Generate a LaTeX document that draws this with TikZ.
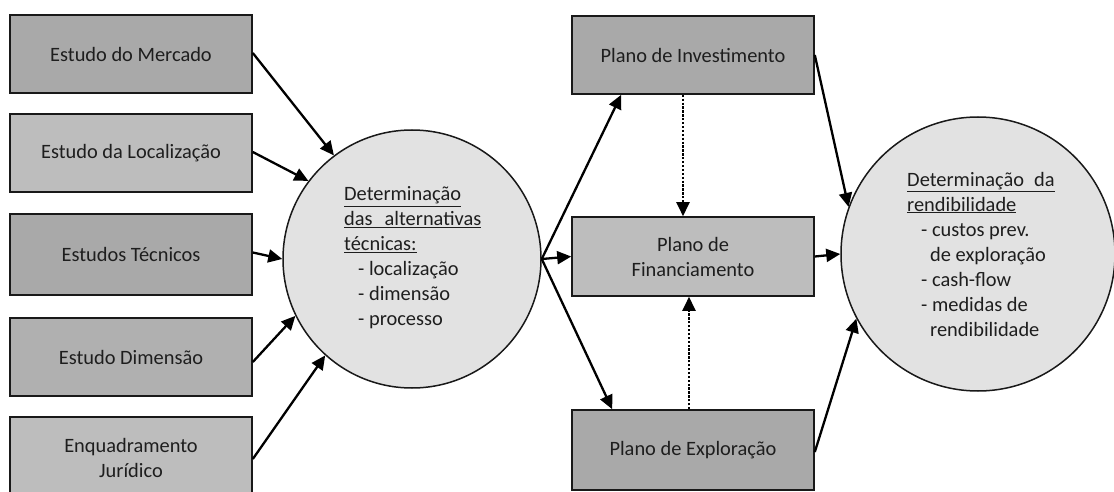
\documentclass[tikz,border=0pt]{standalone}
\usepackage{fontspec}
\setmainfont{Carlito}
\usetikzlibrary{arrows.meta,calc}
\definecolor{boxdark}{HTML}{A9A9A9}
\definecolor{boxmid}{HTML}{B0B0B0}
\definecolor{boxlight}{HTML}{BDBDBD}
\definecolor{circfill}{HTML}{E2E2E2}
\definecolor{txt}{HTML}{1E1E1E}
\begin{document}
\begin{tikzpicture}[x=1pt,y=-1pt,
  every node/.style={text=txt, font=\fontsize{20.4}{25}\selectfont},
  box/.style={draw=black!90, line width=1.6pt, minimum width=242pt, inner sep=0pt, align=center},
  circ/.style={circle, draw=black!90, line width=1.5pt, fill=circfill, inner sep=0pt},
  conn/.style={line width=2.3pt, -{Triangle[length=14pt,width=13pt]}},
  dconn/.style={line width=2.3pt, dash pattern=on 2.3pt off 1.6pt, -{Triangle[length=14pt,width=13pt]}},
  tlist/.style={align=left, anchor=west, inner sep=0pt}
]
\useasboundingbox (0,0) rectangle (1114,492);
\fill[white] (0,0) rectangle (1114,492);

% left boxes
\node[box, fill=boxdark,  minimum height=78pt] (b1) at (131,54)    {Estudo do Mercado};
\node[box, fill=boxlight, minimum height=78pt] (b2) at (131,153)   {Estudo da Localização};
\node[box, fill=boxdark,  minimum height=81pt] (b3) at (131,254.5) {Estudos Técnicos};
\node[box, fill=boxmid,   minimum height=78pt] (b4) at (131,357)   {Estudo Dimensão};
\node[box, fill=boxlight, minimum height=82pt] (b5) at (131,458)   {Enquadramento\\Jurídico};

% left circle
\node[circ, minimum size=258pt] (c1) at (412,259) {};
\node[tlist] (t1) at (344,258) {\underline{Determinação}\\
\underline{das\hspace{12pt}alternativas}\\
\underline{técnicas:}\\
\hspace{14pt}- localização\\
\hspace{14pt}- dimensão\\
\hspace{14pt}- processo};

% middle boxes
\node[box, fill=boxdark,  minimum height=78pt] (m1) at (693,55)    {Plano de Investimento};
\node[box, fill=boxlight, minimum height=79pt] (m2) at (693,256.5) {Plano de\\Financiamento};
\node[box, fill=boxdark,  minimum height=80pt] (m3) at (693,450)   {Plano de Exploração};

% right circle
\node[circ, minimum size=274pt] (c2) at (978,254) {};
\node[tlist] (t2) at (907,254) {\underline{Determinação\hspace{10pt}da}\\
\underline{rendibilidade}\\
\hspace{14pt}- custos prev.\\
\hspace{23pt}de exploração\\
\hspace{14pt}- cash-flow\\
\hspace{14pt}- medidas de\\
\hspace{23pt}rendibilidade};

% arrows left boxes -> circle
\draw[conn] ([yshift=1pt]b1.east) -- (c1.127);
\draw[conn] ([yshift=1pt]b2.east) -- (c1.143);
\draw[conn] ([yshift=2pt]b3.east) -- (c1.180);
\draw[conn] ([yshift=-5pt]b4.east) -- (c1.206);
\draw[conn] ([yshift=-1pt]b5.east) -- (c1.228);

% circle -> middle boxes
\draw[conn] (c1.east) -- ([xshift=50pt]m1.south west);
\draw[conn] (c1.east) -- (m2.west);
\draw[conn] (c1.east) -- ([xshift=41pt]m3.north west);

% dotted
\draw[dconn] ([xshift=-10pt]m1.south) -- ([xshift=-10pt]m2.north);
\draw[dconn] ([xshift=-4pt]m3.north) -- ([xshift=-4pt]m2.south);

% middle -> right circle
\draw[conn] (m1.east) -- (c2.160);
\draw[conn] (m2.east) -- (c2.west);
\draw[conn] ([yshift=-2pt]m3.east) -- (c2.208);
\end{tikzpicture}
\end{document}
